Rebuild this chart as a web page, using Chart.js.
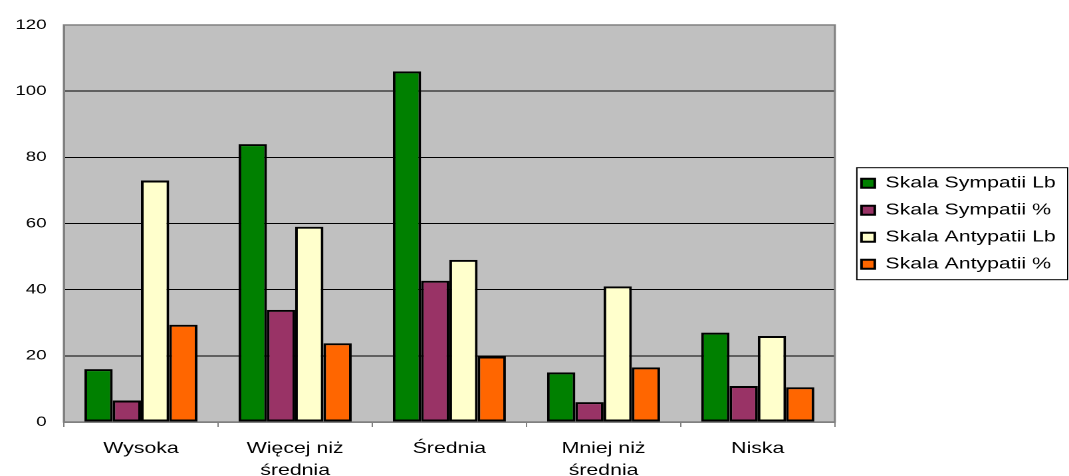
<!DOCTYPE html>
<html>
<head>
<meta charset="utf-8">
<script src="https://cdn.jsdelivr.net/npm/chart.js@4/dist/chart.umd.min.js"></script>
<style>
  html, body { margin: 0; padding: 0; background: #fff; overflow: hidden; }
  #chart { display: block; transform: scaleX(1.3296); transform-origin: 0 0; }
</style>
</head>
<body>
<canvas id="chart" width="804" height="476"></canvas>
<script>
const categories = ['Wysoka', ['Więcej niż', 'średnia'], 'Średnia', ['Mniej niż', 'średnia'], 'Niska'];
const sympatiiLb = [16, 84, 106, 15, 27];
const sympatiiPct = [6.5, 33.9, 42.7, 6.0, 10.9];
const antypatiiLb = [73, 59, 49, 41, 26];
const antypatiiPct = [29.4, 23.8, 19.8, 16.5, 10.5];
const seriesNames = ['Skala Sympatii Lb', 'Skala Sympatii %', 'Skala Antypatii Lb', 'Skala Antypatii %'];
const yMax = 120;
const yStep = 20;

const font = 'Liberation Sans, Arial, sans-serif';

// grey plot area + frame
const plotBg = {
    id: 'plotBg',
    beforeDraw(chart) {
        const a = chart.chartArea;
        const ctx = chart.ctx;
        ctx.save();
        ctx.fillStyle = '#c0c0c0';
        ctx.fillRect(a.left, a.top, a.right - a.left, a.bottom - a.top);
        ctx.restore();
    },
    beforeDatasetsDraw(chart) {
        const a = chart.chartArea;
        const ctx = chart.ctx;
        ctx.save();
        ctx.strokeStyle = '#808080';
        ctx.lineWidth = 1.5;
        ctx.strokeRect(a.left, a.top, a.right - a.left, a.bottom - a.top);
        ctx.restore();
    }
};

// frame around the legend
const legendFrame = {
    id: 'legendFrame',
    afterDraw(chart) {
        const boxes = chart.legend.legendHitBoxes;
        if (!boxes || !boxes.length) return;
        const ctx = chart.ctx;
        const first = boxes[0], last = boxes[boxes.length - 1];
        const left = first.left - 3.5;
        const top = first.top - 7.5;
        const bottom = last.top + last.height + 7.5;
        ctx.save();
        ctx.strokeStyle = '#000';
        ctx.lineWidth = 1;
        ctx.strokeRect(left, top, chart.width - 1 - left, bottom - top);
        ctx.restore();
    }
};

function ds(label, data, color) {
    return {
        label: label,
        data: data,
        backgroundColor: color,
        borderColor: '#000',
        borderWidth: 2,
        borderSkipped: false,
        categoryPercentage: 0.733,
        barPercentage: 1.0
    };
}

new Chart(document.getElementById('chart'), {
    type: 'bar',
    data: {
        labels: categories,
        datasets: [
            ds(seriesNames[0], sympatiiLb, '#008000'),
            ds(seriesNames[1], sympatiiPct, '#993366'),
            ds(seriesNames[2], antypatiiLb, '#ffffcc'),
            ds(seriesNames[3], antypatiiPct, '#ff6600')
        ]
    },
    options: {
        responsive: false,
        animation: false,
        devicePixelRatio: 2,
        layout: { padding: { top: 25, right: 0, left: 0, bottom: 0 } },
        plugins: {
            title: { display: false },
            tooltip: { enabled: false },
            legend: {
                position: 'right',
                align: 'start',
                maxWidth: 240,
                title: {
                    display: true,
                    text: '',
                    font: { family: font, size: 16, lineHeight: 1.2 },
                    padding: { top: 120, bottom: 0 }
                },
                labels: {
                    color: '#000',
                    font: { family: font, size: 16 },
                    boxWidth: 10,
                    boxHeight: 9,
                    padding: 11
                }
            }
        },
        scales: {
            x: {
                grid: {
                    display: true,
                    drawOnChartArea: false,
                    drawTicks: true,
                    tickLength: 5,
                    color: '#808080',
                    lineWidth: 1
                },
                border: { display: true, color: '#808080', width: 1.5 },
                ticks: {
                    color: '#000',
                    padding: 11,
                    maxRotation: 0,
                    autoSkip: false,
                    font: { family: font, size: 16, lineHeight: 1.35 }
                },
                afterFit(scale) { scale.height = 54; }
            },
            y: {
                min: 0,
                max: yMax,
                grid: {
                    color: '#000',
                    lineWidth: 1,
                    drawTicks: false
                },
                border: { display: true, color: '#808080', width: 1.5 },
                ticks: {
                    stepSize: yStep,
                    color: '#000',
                    padding: 13,
                    font: { family: font, size: 14 }
                },
                afterFit(scale) { scale.width = 48; }
            },
            yGap: {
                position: 'right',
                display: true,
                grid: { display: false, drawTicks: false },
                border: { display: false },
                ticks: { display: false },
                afterFit(scale) { scale.width = 9; }
            }
        }
    },
    plugins: [plotBg, legendFrame]
});
</script>
</body>
</html>
